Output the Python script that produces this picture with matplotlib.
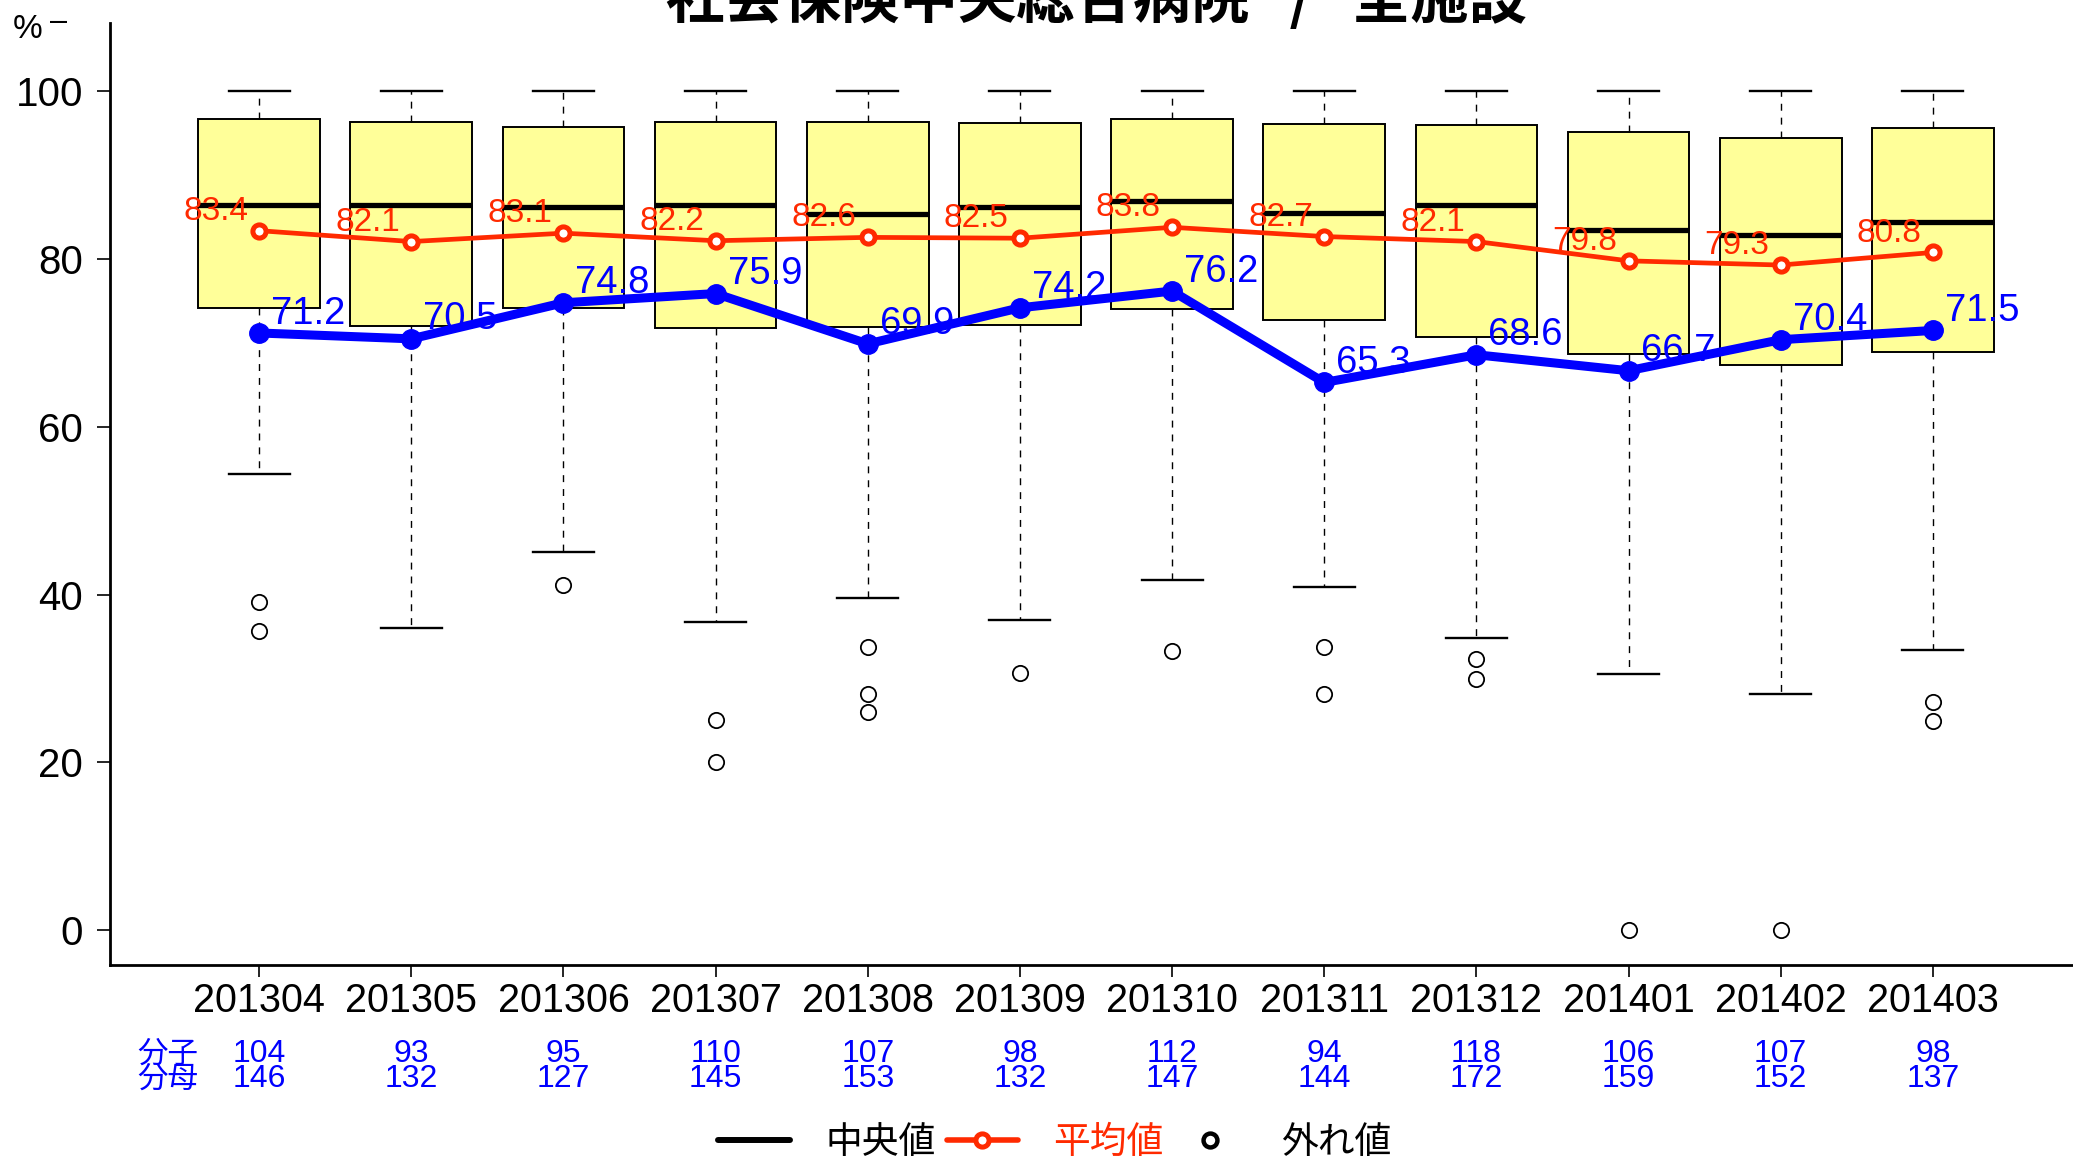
import matplotlib
matplotlib.use("Agg")
import matplotlib.pyplot as plt
from matplotlib.lines import Line2D
from matplotlib.transforms import blended_transform_factory

# 月別の分布（箱ひげ図の統計量）
months = ['201304', '201305', '201306', '201307', '201308', '201309',
          '201310', '201311', '201312', '201401', '201402', '201403']
q1 = [74.2, 72.0, 74.2, 71.8, 71.9, 72.2, 74.1, 72.8, 70.7, 68.7, 67.4, 68.9]
med = [86.4, 86.4, 86.2, 86.4, 85.4, 86.2, 86.9, 85.5, 86.4, 83.5, 82.9, 84.4]
q3 = [96.7, 96.3, 95.7, 96.3, 96.4, 96.2, 96.7, 96.1, 96.0, 95.2, 94.5, 95.6]
whis_lo = [54.4, 36.0, 45.1, 36.7, 39.6, 37.0, 41.7, 40.9, 34.8, 30.5, 28.2, 33.4]
whis_hi = [100, 100, 100, 100, 100, 100, 100, 100, 100, 100, 100, 100]
outliers = [[39.1, 35.7], [], [41.2], [25.0, 20.0], [33.8, 28.2, 26.0], [30.7],
            [33.3], [33.8, 28.2], [32.3, 30.0], [0.0], [0.0], [27.2, 24.9]]

# 平均値（全施設）と当院の値
means = [83.4, 82.1, 83.1, 82.2, 82.6, 82.5, 83.8, 82.7, 82.1, 79.8, 79.3, 80.8]
rates = [71.2, 70.5, 74.8, 75.9, 69.9, 74.2, 76.2, 65.3, 68.6, 66.7, 70.4, 71.5]
numer = [104, 93, 95, 110, 107, 98, 112, 94, 118, 106, 107, 98]
denom = [146, 132, 127, 145, 153, 132, 147, 144, 172, 159, 152, 137]

RED = '#FF2A00'
BLUE = '#0000FF'
YELLOW = '#FFFF99'
NUM_FONT = ['Liberation Sans', 'DejaVu Sans']
JP_FONT = ['Noto Sans CJK JP', 'DejaVu Sans']

plt.rcParams['font.family'] = NUM_FONT

W, H = 2073, 1159
fig = plt.figure(figsize=(W / 100, H / 100), dpi=100)
ax = fig.add_axes([110 / W, 1 - 965 / H, (2082 - 110) / W, (965 - 23) / H])

pos = list(range(1, len(months) + 1))
stats = []
for i in range(len(months)):
    stats.append(dict(med=med[i], q1=q1[i], q3=q3[i], whislo=whis_lo[i],
                      whishi=whis_hi[i], fliers=outliers[i], label=months[i]))

ax.bxp(stats, positions=pos, widths=0.8, patch_artist=True, showcaps=True,
       boxprops=dict(facecolor=YELLOW, edgecolor='black', linewidth=1.4),
       medianprops=dict(color='black', linewidth=3.8, solid_capstyle='butt'),
       whiskerprops=dict(color='black', linewidth=1.0, linestyle=(0, (5, 5))),
       capprops=dict(color='black', linewidth=1.7),
       capwidths=0.4,
       flierprops=dict(marker='o', markerfacecolor='none', markeredgecolor='black',
                       markersize=11, markeredgewidth=1.3),
       zorder=2)

# 数値ラベル（線の下に描く）
for x, m in zip(pos, means):
    ax.annotate(f'{m:.1f}', (x, m), xytext=(-8.0, 14.0), textcoords='offset points',
                ha='right', va='center', color=RED, fontsize=24, zorder=3)
for x, r in zip(pos, rates):
    ax.annotate(f'{r:.1f}', (x, r), xytext=(8.6, 14.0), textcoords='offset points',
                ha='left', va='center', color=BLUE, fontsize=27.5, zorder=3)

ax.plot(pos, means, color=RED, linewidth=3.4, marker='o', markersize=9.5,
        markerfacecolor='white', markeredgecolor=RED, markeredgewidth=3.6, zorder=4)
ax.plot(pos, rates, color=BLUE, linewidth=6.5, marker='o', markersize=14,
        markerfacecolor=BLUE, markeredgecolor=BLUE, zorder=5)

ax.set_xlim(0.02, 12.98)
ax.set_ylim(-4.16, 108.16)
ax.set_yticks([0, 20, 40, 60, 80, 100])
ax.set_xticks(pos)
ax.set_xticklabels(months)
ax.tick_params(axis='y', length=9.4, width=1.2, pad=10, labelsize=29, direction='out')
ax.tick_params(axis='x', length=8.6, width=1.2, pad=3.5, labelsize=28.5, direction='out')
for side in ['top', 'right']:
    ax.spines[side].set_visible(False)
for side in ['left', 'bottom']:
    ax.spines[side].set_linewidth(2.0)

fig.text(13 / W, 1 - 29 / H, '%', ha='left', va='center', fontsize=24)
fig.text(50 / W, 1 - 22 / H, '\u2013', ha='left', va='center', fontsize=22)

# 分子・分母
tr = blended_transform_factory(ax.transData, fig.transFigure)
y1, y2 = 1 - 1054 / H, 1 - 1079 / H
ax.text(0.40, y1, '分子', transform=tr, ha='center', va='center', color=BLUE,
        fontsize=22, family=JP_FONT, clip_on=False)
ax.text(0.40, y2, '分母', transform=tr, ha='center', va='center', color=BLUE,
        fontsize=22, family=JP_FONT, clip_on=False)
for x, n, d in zip(pos, numer, denom):
    ax.text(x, y1, str(n), transform=tr, ha='center', va='center', color=BLUE,
            fontsize=23, clip_on=False)
    ax.text(x, y2, str(d), transform=tr, ha='center', va='center', color=BLUE,
            fontsize=23, clip_on=False)

fig.text(1097 / W, 1 - 31 / H, '社会保険中央総合病院   /   全施設', ha='center', va='bottom',
         fontsize=42, fontweight='bold', family=JP_FONT)

handles = [
    Line2D([], [], color='black', linewidth=4.3, solid_capstyle='round'),
    Line2D([], [], color=RED, linewidth=4.0, marker='o', markersize=9.5,
           markerfacecolor='white', markeredgecolor=RED, markeredgewidth=3.6,
           solid_capstyle='round'),
    Line2D([], [], linestyle='none', marker='o', markersize=10, markerfacecolor='white',
           markeredgecolor='black', markeredgewidth=3.2),
]
leg = fig.legend(handles, ['中央値', '平均値', '外れ値'], loc='center',
                 bbox_to_anchor=(1055 / W, 1 - 1142 / H), ncol=3, frameon=False,
                 prop={'family': JP_FONT, 'size': 26.5}, handlelength=1.95,
                 handletextpad=0.95, columnspacing=0.3, borderpad=0)
for txt, c in zip(leg.get_texts(), ['black', RED, 'black']):
    txt.set_color(c)

fig.savefig('out.png', dpi=100)
